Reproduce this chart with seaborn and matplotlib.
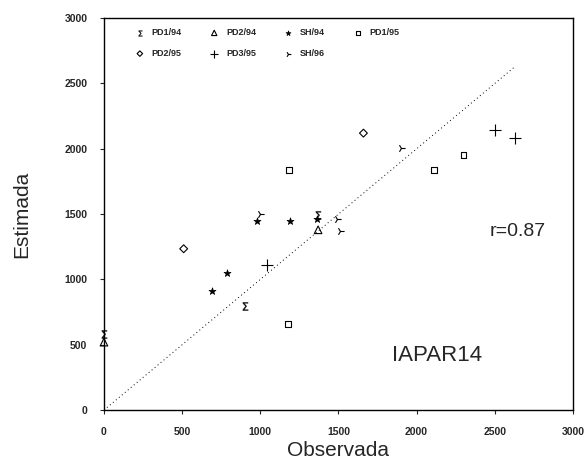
import seaborn as sns
import matplotlib.pyplot as plt
import pandas as pd

# values (Observada, Estimada)
pd1_94_obs = [0, 900, 1370]
pd1_94_est = [580, 800, 1490]
pd2_94_obs = [0, 1370]
pd2_94_est = [520, 1380]
sh_94_obs = [690, 790, 980, 1190, 1360]
sh_94_est = [910, 1050, 1450, 1450, 1460]
pd1_95_obs = [1180, 1185, 2110, 2300]
pd1_95_est = [660, 1840, 1835, 1950]
pd2_95_obs = [510, 1660]
pd2_95_est = [1235, 2120]
pd3_95_obs = [1040, 2500, 2630]
pd3_95_est = [1110, 2145, 2085]
sh_96_obs = [1000, 1490, 1510, 1900]
sh_96_est = [1500, 1460, 1370, 2010]

line_end = 2630
r_text = "r=0.87"
cultivar = "IAPAR14"
ticks = [0, 500, 1000, 1500, 2000, 2500, 3000]


def main():
    sns.set_style("ticks")
    plt.rcParams['font.family'] = ['Liberation Sans', 'DejaVu Sans']

    series = [
        ("PD1/94", pd1_94_obs, pd1_94_est, r"$\Sigma$", dict(color="black", s=35, linewidth=0.2)),
        ("PD2/94", pd2_94_obs, pd2_94_est, "^", dict(facecolor="none", s=30, linewidth=0.8)),
        ("SH/94", sh_94_obs, sh_94_est, "*", dict(color="black", s=28, linewidth=0.5)),
        ("PD1/95", pd1_95_obs, pd1_95_est, "s", dict(facecolor="none", s=18, linewidth=0.8)),
        ("PD2/95", pd2_95_obs, pd2_95_est, "D", dict(facecolor="none", s=16, linewidth=0.8)),
        ("PD3/95", pd3_95_obs, pd3_95_est, "+", dict(color="black", s=80, linewidth=0.8)),
        ("SH/96", sh_96_obs, sh_96_est, "4", dict(color="black", s=35, linewidth=0.8)),
    ]

    fig = plt.figure(figsize=(5.84, 4.66), dpi=100)
    ax = fig.add_axes([0.178, 0.12, 0.803, 0.841])

    ax.plot([0, line_end], [0, line_end], ls=(0, (1, 3)), color="black", lw=0.7)

    for name, xs, ys, mk, kw in series:
        df = pd.DataFrame({"Observada": xs, "Estimada": ys})
        sns.scatterplot(data=df, x="Observada", y="Estimada", marker=mk,
                        edgecolor="black", label=name, ax=ax,
                        clip_on=False, zorder=3, **kw)

    ax.set_xlim(0, 3000)
    ax.set_ylim(0, 3000)
    ax.set_xticks(ticks)
    ax.set_yticks(ticks)
    ax.tick_params(labelsize=7.5, length=3, width=0.8, pad=9)
    for lab in ax.get_xticklabels() + ax.get_yticklabels():
        lab.set_fontweight("bold")
    for sp in ax.spines.values():
        sp.set_linewidth(1.0)
        sp.set_color("black")

    ax.set_xlabel("Observada", fontsize=15, labelpad=3)
    ax.set_ylabel("Estimada", fontsize=15, labelpad=24)

    ax.text(2470, 1365, r_text, fontsize=14, va="center")
    ax.text(1840, 420, cultivar, fontsize=16, va="center")

    # matplotlib fills legend columns first; reorder so rows read left to right
    handles, labels = ax.get_legend_handles_labels()
    order = [0, 4, 1, 5, 2, 6, 3]
    leg = ax.legend([handles[i] for i in order], [labels[i] for i in order],
                    ncol=4, frameon=False, loc="upper left",
                    bbox_to_anchor=(0.04, 0.995), fontsize=6.5,
                    handletextpad=0.3, columnspacing=2.6, labelspacing=1.3,
                    markerscale=0.7)
    for t in leg.get_texts():
        t.set_fontweight("bold")

    plt.savefig("out.png", dpi=100)


if __name__ == "__main__":
    main()
